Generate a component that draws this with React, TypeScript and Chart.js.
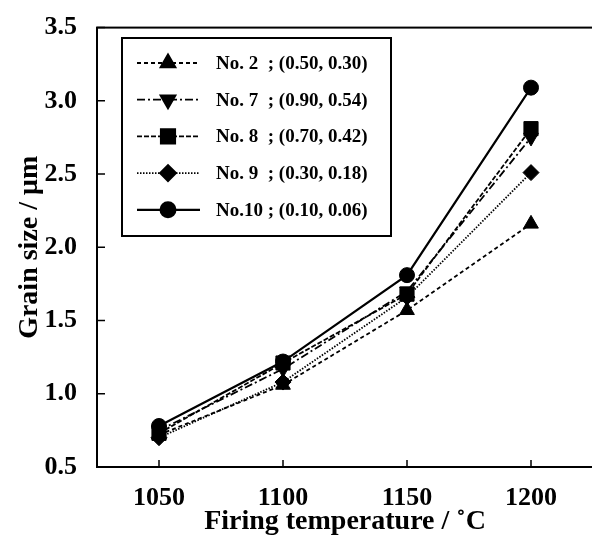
import React, { useEffect, useRef } from 'react';
import { Chart, registerables } from 'chart.js';
import { drawPoint } from 'chart.js/helpers';

Chart.register(...registerables);

const temperatures = [1050, 1100, 1150, 1200];
const xTicks = [1050, 1100, 1150, 1200];
const yTicks = [0.5, 1.0, 1.5, 2.0, 2.5, 3.0, 3.5];
const labels = [
  'No. 2  ; (0.50, 0.30)',
  'No. 7  ; (0.90, 0.54)',
  'No. 8  ; (0.70, 0.42)',
  'No. 9  ; (0.30, 0.18)',
  'No.10 ; (0.10, 0.06)',
];
const no2 = [0.72, 1.06, 1.57, 2.16];
const no7 = [0.75, 1.17, 1.70, 2.75];
const no8 = [0.73, 1.21, 1.68, 2.81];
const no9 = [0.70, 1.08, 1.66, 2.51];
const no10 = [0.78, 1.22, 1.81, 3.09];

const FONT = '"Liberation Serif", "Times New Roman", serif';

const frameAndTicks = {
  id: 'frameAndTicks',
  afterDraw(chart: any) {
    const { ctx, chartArea: a, scales } = chart;
    ctx.save();
    ctx.strokeStyle = '#000';
    ctx.lineWidth = 2;
    ctx.strokeRect(a.left, a.top, a.right - a.left, a.bottom - a.top);
    ctx.lineWidth = 1.5;
    ctx.beginPath();
    scales.x.ticks.forEach((t: any) => {
      const px = scales.x.getPixelForValue(t.value);
      ctx.moveTo(px, a.bottom);
      ctx.lineTo(px, a.bottom - 7);
    });
    scales.y.ticks.forEach((t: any) => {
      const py = scales.y.getPixelForValue(t.value);
      ctx.moveTo(a.left, py);
      ctx.lineTo(a.left + 8, py);
    });
    ctx.stroke();
    ctx.restore();
  },
};

const boxLegend = {
  id: 'boxLegend',
  afterDraw(chart: any) {
    const { ctx } = chart;
    ctx.save();
    ctx.strokeStyle = '#000';
    ctx.fillStyle = '#000';
    ctx.lineWidth = 2;
    ctx.setLineDash([]);
    ctx.strokeRect(122, 38, 269, 198);
    chart.data.datasets.forEach((ds: any, i: number) => {
      const y = 63 + i * 36.7;
      ctx.save();
      ctx.lineWidth = ds.borderWidth;
      ctx.setLineDash(ds.borderDash || []);
      ctx.beginPath();
      ctx.moveTo(137, y);
      ctx.lineTo(200, y);
      ctx.stroke();
      ctx.restore();
      ctx.save();
      ctx.setLineDash([]);
      drawPoint(ctx, { pointStyle: ds.pointStyle, rotation: ds.pointRotation || 0, radius: ds.pointRadius, borderWidth: 1 }, 168, y);
      ctx.restore();
      ctx.font = `bold 19px ${FONT}`;
      ctx.textBaseline = 'middle';
      ctx.textAlign = 'left';
      ctx.fillText(ds.label, 216, y + 1);
    });
    ctx.restore();
  },
};

export default function App() {
  const ref = useRef<HTMLCanvasElement>(null);
  useEffect(() => {
    if (!ref.current) return;
    const mk = (label: string, data: number[], dash: number[], style: string, radius: number, rot = 0, width = 1.8) => ({
      label,
      data: temperatures.map((x, i) => ({ x, y: data[i] })),
      borderColor: '#000',
      backgroundColor: '#000',
      borderWidth: width,
      borderDash: dash,
      pointStyle: style,
      pointRotation: rot,
      pointRadius: radius,
      pointBorderWidth: 1,
      tension: 0,
    });
    const chart = new Chart(ref.current, {
      type: 'line',
      data: {
        datasets: [
          mk(labels[0], no2, [4, 3], 'triangle', 8.5),
          mk(labels[1], no7, [8, 3, 2, 3], 'triangle', 8.5, 180),
          mk(labels[2], no8, [5, 2], 'rect', 10),
          mk(labels[3], no9, [1.5, 1.5], 'rectRot', 8),
          mk(labels[4], no10, [], 'circle', 7.5, 0, 2.2),
        ] as any,
      },
      options: {
        animation: false,
        responsive: false,
        layout: { padding: { top: 23, right: 8, left: 0, bottom: 0 } },
        plugins: { legend: { display: false }, tooltip: { enabled: false } },
        scales: {
          x: {
            type: 'linear',
            min: 1025,
            max: 1225,
            grid: { display: false },
            border: { display: false },
            afterBuildTicks: (s: any) => { s.ticks = xTicks.map((v) => ({ value: v })); },
            afterFit: (s: any) => { s.height = 70; },
            ticks: {
              color: '#000',
              padding: 8,
              maxRotation: 0,
              font: { family: FONT, size: 26, weight: 'bold' },
              callback: (v: any) => String(v),
            },
            title: {
              display: true,
              text: 'Firing temperature / ˚C',
              color: '#000',
              font: { family: FONT, size: 28, weight: 'bold' },
              padding: { top: 0, bottom: -2 },
            },
          },
          y: {
            type: 'linear',
            min: 0.5,
            max: 3.5,
            grid: { display: false },
            border: { display: false },
            afterBuildTicks: (s: any) => { s.ticks = yTicks.map((v) => ({ value: v })); },
            afterFit: (s: any) => { s.width = 97; },
            ticks: {
              color: '#000',
              padding: 12,
              font: { family: FONT, size: 26, weight: 'bold' },
              callback: (v: any) => Number(v).toFixed(1),
            },
            title: {
              display: true,
              text: 'Grain size / μm',
              color: '#000',
              font: { family: FONT, size: 28, weight: 'bold' },
              padding: { top: 13, bottom: 0 },
            },
          },
        },
      } as any,
      plugins: [frameAndTicks, boxLegend],
    });
    return () => chart.destroy();
  }, []);
  return (
    <div style={{ position: 'absolute', left: 0, top: 0, width: 592, height: 537, overflow: 'hidden', background: '#fff' }}>
      <canvas ref={ref} width={604} height={537} style={{ display: 'block' }} />
    </div>
  );
}
